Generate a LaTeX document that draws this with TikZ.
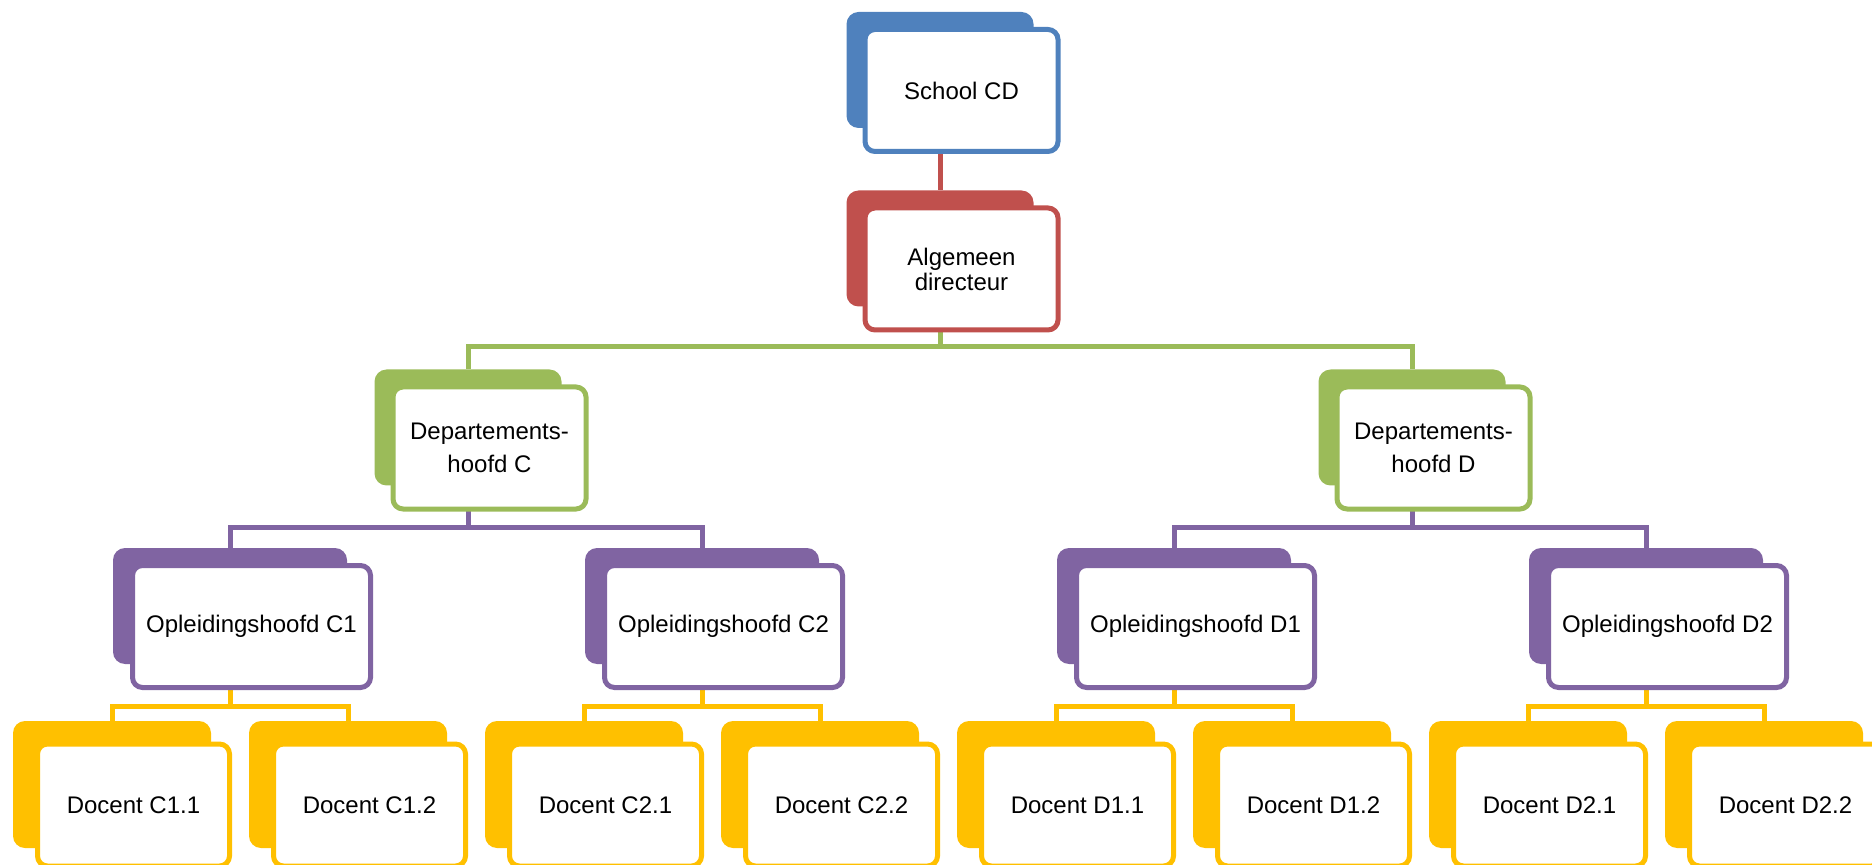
\documentclass[tikz,border=0pt]{standalone}
\usepackage{fontspec}
\setmainfont{Liberation Sans}
\usetikzlibrary{backgrounds}
\definecolor{cBlue}{HTML}{4F81BD}
\definecolor{cRed}{HTML}{C0504D}
\definecolor{cGreen}{HTML}{9BBB59}
\definecolor{cPurple}{HTML}{8064A2}
\definecolor{cGold}{HTML}{FFC000}
\tikzset{
  backbox/.style={rectangle, rounded corners=6pt, inner sep=0pt, draw=none},
  frontbox/.style={rectangle, rounded corners=5pt, fill=white, line width=2.5pt,
    minimum height=61pt, inner sep=2pt, align=center,
    font=\fontsize{12}{14.4}\selectfont},
  conn/.style={line width=2.5pt},
}
% #1 name, #2 colour, #3 cx, #4 cy (back centre, px), #5 back w, #6 back h, #7 front w, #8 text
\newcommand\orgunit[8]{%
  \node[backbox, fill=#2, minimum width=#5, minimum height=#6] (#1B) at (#3,#4) {};
  \node[frontbox, draw=#2, minimum width=#7] (#1) at (#3+21.5,#4+20.5) {#8};
}
\begin{document}
\begin{tikzpicture}[x=0.5pt,y=-0.5pt]
\clip (0,0) rectangle (1872,865);
\useasboundingbox (0,0) rectangle (1872,865);
\coordinate (busG) at (0,347);
\coordinate (busP) at (0,527);
\coordinate (busY) at (0,706);
% top
\orgunit{top}{cBlue}{940}{70}{93.5pt}{58pt}{96.5pt}{School CD}
\orgunit{alg}{cRed}{940}{248.5}{93.5pt}{58pt}{96.5pt}{Algemeen\\[-1.9pt]directeur}
% departments
\orgunit{depC}{cGreen}{468}{427.5}{93.5pt}{58pt}{96.5pt}{Departements-\\[2.1pt]hoofd C}
\orgunit{depD}{cGreen}{1412}{427.5}{93.5pt}{58pt}{96.5pt}{Departements-\\[2.1pt]hoofd D}
% opleidingshoofden
\orgunit{oC1}{cPurple}{230}{606}{117pt}{58pt}{119pt}{Opleidingshoofd C1}
\orgunit{oC2}{cPurple}{702}{606}{117pt}{58pt}{119pt}{Opleidingshoofd C2}
\orgunit{oD1}{cPurple}{1174}{606}{117pt}{58pt}{119pt}{Opleidingshoofd D1}
\orgunit{oD2}{cPurple}{1646}{606}{117pt}{58pt}{119pt}{Opleidingshoofd D2}
% docenten
\orgunit{dC11}{cGold}{112}{784.5}{99pt}{63.5pt}{96pt}{Docent C1.1}
\orgunit{dC12}{cGold}{348}{784.5}{99pt}{63.5pt}{96pt}{Docent C1.2}
\orgunit{dC21}{cGold}{584}{784.5}{99pt}{63.5pt}{96pt}{Docent C2.1}
\orgunit{dC22}{cGold}{820}{784.5}{99pt}{63.5pt}{96pt}{Docent C2.2}
\orgunit{dD11}{cGold}{1056}{784.5}{99pt}{63.5pt}{96pt}{Docent D1.1}
\orgunit{dD12}{cGold}{1292}{784.5}{99pt}{63.5pt}{96pt}{Docent D1.2}
\orgunit{dD21}{cGold}{1528}{784.5}{99pt}{63.5pt}{96pt}{Docent D2.1}
\orgunit{dD22}{cGold}{1764}{784.5}{99pt}{63.5pt}{96pt}{Docent D2.2}
\begin{pgfonlayer}{background}
  \draw[conn, cRed] (topB.south) -- (algB.north);
  \draw[conn, cGreen] (algB.south) -- (algB.south |- busG) -| (depCB.north);
  \draw[conn, cGreen] (algB.south |- busG) -| (depDB.north);
  \draw[conn, cPurple] (depCB.south) -- (depCB.south |- busP) -| (oC1B.north);
  \draw[conn, cPurple] (depCB.south |- busP) -| (oC2B.north);
  \draw[conn, cPurple] (depDB.south) -- (depDB.south |- busP) -| (oD1B.north);
  \draw[conn, cPurple] (depDB.south |- busP) -| (oD2B.north);
  \draw[conn, cGold] (oC1B.south) -- (oC1B.south |- busY) -| (dC11B.north);
  \draw[conn, cGold] (oC1B.south |- busY) -| (dC12B.north);
  \draw[conn, cGold] (oC2B.south) -- (oC2B.south |- busY) -| (dC21B.north);
  \draw[conn, cGold] (oC2B.south |- busY) -| (dC22B.north);
  \draw[conn, cGold] (oD1B.south) -- (oD1B.south |- busY) -| (dD11B.north);
  \draw[conn, cGold] (oD1B.south |- busY) -| (dD12B.north);
  \draw[conn, cGold] (oD2B.south) -- (oD2B.south |- busY) -| (dD21B.north);
  \draw[conn, cGold] (oD2B.south |- busY) -| (dD22B.north);
\end{pgfonlayer}
\end{tikzpicture}
\end{document}
